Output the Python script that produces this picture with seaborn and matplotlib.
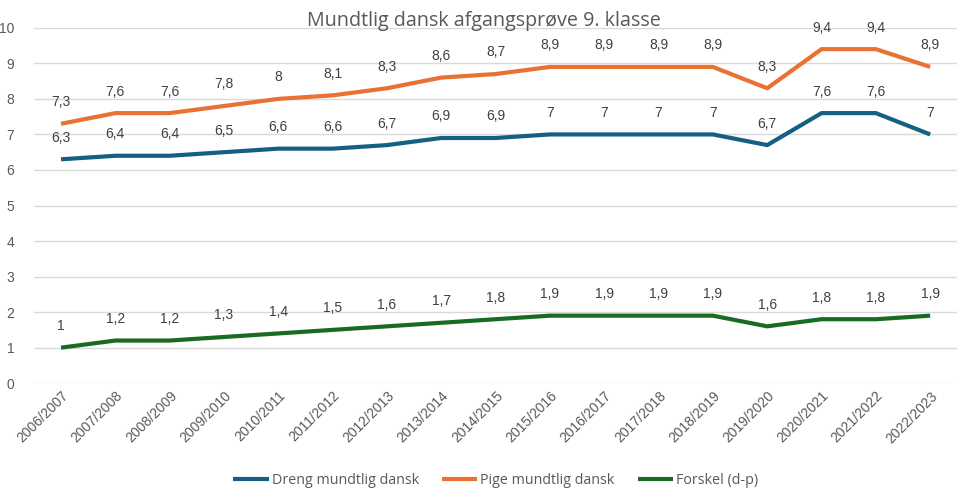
import pandas as pd
import seaborn as sns
import matplotlib.pyplot as plt

# --- dati ---
aar = ["2006/2007", "2007/2008", "2008/2009", "2009/2010", "2010/2011", "2011/2012",
       "2012/2013", "2013/2014", "2014/2015", "2015/2016", "2016/2017", "2017/2018",
       "2018/2019", "2019/2020", "2020/2021", "2021/2022", "2022/2023"]
dreng = [6.3, 6.4, 6.4, 6.5, 6.6, 6.6, 6.7, 6.9, 6.9, 7, 7, 7, 7, 6.7, 7.6, 7.6, 7]
pige = [7.3, 7.6, 7.6, 7.8, 8, 8.1, 8.3, 8.6, 8.7, 8.9, 8.9, 8.9, 8.9, 8.3, 9.4, 9.4, 8.9]
forskel = [1, 1.2, 1.2, 1.3, 1.4, 1.5, 1.6, 1.7, 1.8, 1.9, 1.9, 1.9, 1.9, 1.6, 1.8, 1.8, 1.9]

serier = {
    "Dreng mundtlig dansk": dreng,
    "Pige mundtlig dansk": pige,
    "Forskel (d-p)": forskel,
}
farver = ["#156082", "#E97132", "#196B24"]

df = pd.DataFrame({"aar": aar, **serier})
df["pos"] = range(len(aar))
lang = df.melt(id_vars=["aar", "pos"], var_name="serie", value_name="karakter")

sns.set_theme(style="white")
plt.rcParams["font.family"] = ["Open Sans", "DejaVu Sans"]
grigio = "#595959"
num_font = ["Liberation Sans", "DejaVu Sans"]

fig = plt.figure(figsize=(9.68, 4.97), dpi=100)
ax = fig.add_axes([0.035, 0.229, 0.954, 0.715])

ax.yaxis.grid(True, color="#D9D9D9", linewidth=1)
ax.set_axisbelow(True)

sns.lineplot(data=lang, x="pos", y="karakter", hue="serie", palette=farver,
             linewidth=3, ax=ax, legend=True, solid_capstyle="butt")

# etichette dei valori sopra i punti
for nome in serier:
    for x, v in zip(df["pos"], df[nome]):
        testo = f"{v:g}".replace(".", ",")
        ax.annotate(testo, (x, v), xytext=(0, 10.5), textcoords="offset points",
                    ha="center", va="bottom", fontsize=10, color="#404040",
                    family=num_font)

ax.set_xlim(-0.5, len(aar) - 0.5)
ax.set_ylim(0, 10)
ax.set_yticks(range(0, 11))
ax.set_xticks(df["pos"])
ax.set_xticklabels(aar, rotation=45, ha="right", rotation_mode="anchor")
for t in ax.get_xticklabels() + ax.get_yticklabels():
    t.set_family(num_font)
ax.tick_params(axis="both", colors=grigio, labelsize=10, length=0)
ax.tick_params(axis="y", pad=14)
ax.tick_params(axis="x", pad=4)
ax.set_xlabel("")
ax.set_ylabel("")
for s in ax.spines.values():
    s.set_visible(False)

fig.suptitle("Mundtlig dansk afgangsprøve 9. klasse", y=0.978, fontsize=14.2, color=grigio)

leg = ax.legend(loc="lower center", bbox_to_anchor=(0.5, -0.33), ncol=3, frameon=False,
                fontsize=10.3, handlelength=2.5, handletextpad=0.2, columnspacing=1.6)
for t in leg.get_texts():
    t.set_color(grigio)

plt.savefig("out.png", dpi=100)
plt.close()
